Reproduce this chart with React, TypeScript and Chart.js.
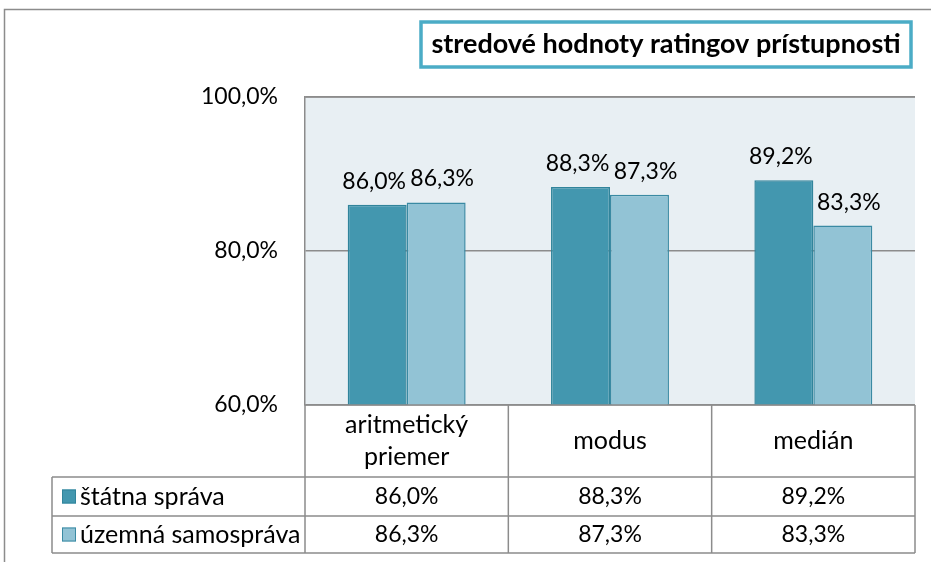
import React, { useEffect, useRef } from "react";
import { Chart, registerables } from "chart.js";

Chart.register(...registerables);

const categories: string[][] = [["aritmetický", "priemer"], ["modus"], ["medián"]];
const seriesNames = ["štátna správa", "územná samospráva"];
const stateValues = [86.0, 88.3, 89.2];
const territorialValues = [86.3, 87.3, 83.3];
const yMin = 60;
const yMax = 100;
const yStep = 20;
const chartTitle = "stredové hodnoty ratingov prístupnosti";

const FONT = "Lato, 'Open Sans', sans-serif";
const fill = ["#4397AF", "#92C3D5"];
const border = ["#31849B", "#3A8AA3"];
const lineColor = "#8C8C8C";
const labelShift = [-3, 6];

const fmt = (v: number) => v.toFixed(1).replace(".", ",") + "%";

const tablePlugin = {
  id: "tablePlugin",
  beforeDraw(chart: any) {
    const { ctx, chartArea } = chart;
    ctx.save();
    ctx.fillStyle = "#E8EFF3";
    ctx.fillRect(chartArea.left, chartArea.top, chartArea.right - chartArea.left, chartArea.bottom - chartArea.top);
    ctx.restore();
  },
  afterDraw(chart: any) {
    const { ctx, chartArea } = chart;
    const x = chart.scales.x;
    const n = categories.length;
    const catW = (chartArea.right - chartArea.left) / n;
    const L = chartArea.left;
    const R = chartArea.right;
    const top = chartArea.bottom;
    const headerBottom = top + 72;
    const row1Bottom = headerBottom + 39;
    const row2Bottom = row1Bottom + 37;
    const legendLeft = 52;

    ctx.save();
    ctx.strokeStyle = lineColor;
    ctx.lineWidth = 1.5;
    ctx.strokeRect(4.5, 9.5, 1000, 1000);
    ctx.beginPath();
    ctx.moveTo(L, chartArea.top);
    ctx.lineTo(R, chartArea.top);
    ctx.stroke();
    ctx.beginPath();
    ctx.moveTo(L, top);
    ctx.lineTo(R, top);
    ctx.moveTo(legendLeft, headerBottom);
    ctx.lineTo(R, headerBottom);
    ctx.moveTo(legendLeft, row1Bottom);
    ctx.lineTo(R, row1Bottom);
    ctx.moveTo(legendLeft, row2Bottom);
    ctx.lineTo(R, row2Bottom);
    ctx.moveTo(legendLeft, headerBottom);
    ctx.lineTo(legendLeft, row2Bottom);
    for (let i = 0; i <= n; i++) {
      const vx = L + i * catW;
      ctx.moveTo(vx, top);
      ctx.lineTo(vx, row2Bottom);
    }
    ctx.stroke();

    ctx.fillStyle = "#000";
    ctx.font = `25px ${FONT}`;
    ctx.textAlign = "center";
    ctx.textBaseline = "middle";
    categories.forEach((lines, i) => {
      const cx = x.getPixelForValue(i);
      const midY = (top + headerBottom) / 2;
      const lh = 32;
      lines.forEach((t, j) => {
        ctx.fillText(t, cx, midY + (j - (lines.length - 1) / 2) * lh);
      });
    });
    const rows = [stateValues, territorialValues];
    const rowMids = [(headerBottom + row1Bottom) / 2, (row1Bottom + row2Bottom) / 2];
    rows.forEach((vals, r) => {
      ctx.font = `23px ${FONT}`;
      vals.forEach((v, i) => {
        ctx.fillText(fmt(v), x.getPixelForValue(i), rowMids[r]);
      });
      ctx.fillStyle = fill[r];
      ctx.fillRect(62, rowMids[r] - 7, 14, 14);
      ctx.strokeStyle = border[r];
      ctx.lineWidth = 1;
      ctx.strokeRect(62.5, rowMids[r] - 6.5, 13, 13);
      ctx.fillStyle = "#000";
      ctx.textAlign = "left";
      ctx.font = `25px ${FONT}`;
      ctx.fillText(seriesNames[r], 80, rowMids[r]);
      ctx.textAlign = "center";
    });

    ctx.font = `23px ${FONT}`;
    ctx.textBaseline = "alphabetic";
    chart.data.datasets.forEach((ds: any, di: number) => {
      const meta = chart.getDatasetMeta(di);
      meta.data.forEach((bar: any, i: number) => {
        ctx.fillText(fmt(ds.data[i]), bar.x + labelShift[di], bar.y - 16);
      });
    });

    const bx = 421, by = 22, bw = 490, bh = 45;
    ctx.fillStyle = "#fff";
    ctx.fillRect(bx, by, bw, bh);
    ctx.strokeStyle = "#4BACC6";
    ctx.lineWidth = 3.5;
    ctx.strokeRect(bx, by, bw, bh);
    ctx.fillStyle = "#000";
    ctx.font = `bold 27px ${FONT}`;
    ctx.textBaseline = "middle";
    ctx.fillText(chartTitle, bx + bw / 2, by + bh / 2);
    ctx.restore();
  },
};

export default function App() {
  const ref = useRef<HTMLCanvasElement>(null);
  useEffect(() => {
    document.body.style.margin = "0";
    const chart = new Chart(ref.current as HTMLCanvasElement, {
      type: "bar",
      data: {
        labels: categories.map((c) => c.join(" ")),
        datasets: [
          {
            label: seriesNames[0],
            data: stateValues,
            backgroundColor: fill[0],
            borderColor: border[0],
            borderWidth: 1.5,
            categoryPercentage: 0.58,
            barPercentage: 1,
          },
          {
            label: seriesNames[1],
            data: territorialValues,
            backgroundColor: fill[1],
            borderColor: border[1],
            borderWidth: 1.5,
            categoryPercentage: 0.58,
            barPercentage: 1,
          },
        ],
      },
      options: {
        animation: false,
        responsive: false,
        layout: { padding: { left: 0, top: 97, right: 16, bottom: 157 } },
        plugins: { legend: { display: false }, tooltip: { enabled: false }, title: { display: false } },
        scales: {
          x: { display: false },
          y: {
            min: yMin,
            max: yMax,
            afterFit: (s: any) => {
              s.width = 305;
            },
            ticks: {
              stepSize: yStep,
              callback: (v: any) => fmt(Number(v)),
              color: "#000",
              font: { family: FONT, size: 23 },
              padding: 27,
            },
            grid: { color: lineColor, lineWidth: 1.5, drawTicks: false },
            border: { color: lineColor, width: 1.5 },
          },
        },
      },
      plugins: [tablePlugin],
    });
    return () => chart.destroy();
  }, []);
  return (
    <div style={{ position: "absolute", left: 0, top: 0, width: 931, height: 562 }}>
      <canvas ref={ref} width={931} height={562} style={{ width: 931, height: 562 }} />
    </div>
  );
}
